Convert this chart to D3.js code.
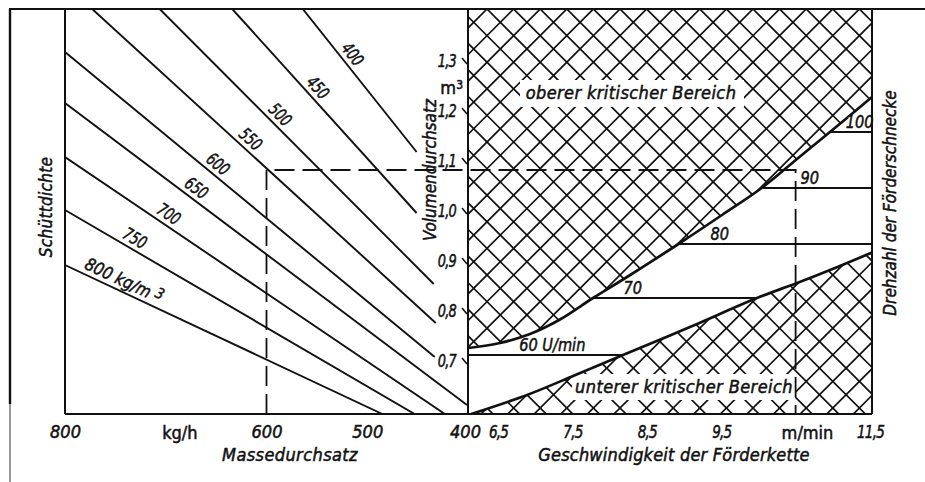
<!DOCTYPE html>
<html><head><meta charset="utf-8">
<script src="https://cdn.jsdelivr.net/npm/d3@7"></script>
<style>
html,body{margin:0;padding:0;background:#fff;}
svg{display:block;background:#fff;}
text{font-family:"DejaVu Sans Condensed","DejaVu Sans",sans-serif;font-stretch:condensed;font-style:oblique;fill:#111;stroke:#111;stroke-width:0.5px;}
</style></head><body>
<svg id="c" width="925" height="482"></svg>
<script>
// ---------- data ----------
const densities        = [400, 450, 500, 550, 600, 650, 700, 750, 800];
const densityStartMass = [564, 634, 706, 773, 800, 800, 800, 800, 800];
const densityStartVol  = [1.408, 1.408, 1.408, 1.408, 1.322, 1.220, 1.112, 1.006, 0.896];
const densityEndMass   = [451, 451, 434, 432, 433, 401, 423, 453, 485];
const densityEndVol    = [1.122, 1.000, 0.858, 0.780, 0.712, 0.616, 0.598, 0.598, 0.598];
const densityLabelMass = [523, 557, 594, 623, 655, 676, 703, 736, 746];

const massTicks  = [800, 600, 500, 400];
const volTicks   = [0.7, 0.8, 0.9, 1.0, 1.1, 1.2, 1.3];
const speedTicks = [6.5, 7.5, 8.5, 9.5, 11.5];

const upperCurveSpeed = [6.097, 6.527, 6.930, 7.333, 7.777, 8.234, 8.946, 9.511, 10.062, 10.519, 10.962, 11.527];
const upperCurveVol   = [0.730, 0.740, 0.758, 0.787, 0.830, 0.872, 0.940, 0.996, 1.052, 1.108, 1.162, 1.232];
const lowerCurveSpeed = [6.14, 6.89, 7.54, 8.18, 9.08, 9.98, 10.52, 11.03, 11.527];
const lowerCurveVol   = [0.598, 0.636, 0.676, 0.716, 0.772, 0.830, 0.860, 0.890, 0.921];

const rpmValues      = [60, 70, 80, 90, 100];
const rpmLabels      = ["60 U/min", "70", "80", "90", "100"];
const rpmVol         = [0.716, 0.830, 0.938, 1.050, 1.162];
const rpmStartSpeed  = [6.097, 7.777, 8.946, 10.062, 10.962];
const rpmEndSpeed    = [8.18, 9.98, 11.527, 11.527, 11.527];
const rpmLabelSpeed  = [7.23, 8.31, 9.48, 10.69, 11.36];

const exampleMass = 600, exampleVol = 1.086, exampleSpeed = 10.5;

// ---------- layout ----------
const svg = d3.select("#c");
const T = 9, B = 414, L = 65, M = 468, R = 872;
const ink = "#111";

const xMass  = d3.scaleLinear().domain([800, 400]).range([L, M]);
const yVol   = d3.scaleLinear().domain([0.598, 1.408]).range([B, T]);
const xSpeed = d3.scaleLinear().domain([6.5, 11.5]).range([498, 870]);

const defs = svg.append("defs");

// ---------- hatched critical regions ----------
const curveLine = d3.line().x(d => xSpeed(d[0])).y(d => yVol(d[1])).curve(d3.curveCatmullRom.alpha(0.5));
const upperPts = upperCurveSpeed.map((s, i) => [s, upperCurveVol[i]]);
const lowerPts = lowerCurveSpeed.map((s, i) => [s, lowerCurveVol[i]]);

defs.append("clipPath").attr("id", "clipUp").append("path")
  .attr("d", curveLine(upperPts) + "L" + R + "," + T + "L" + M + "," + T + "Z");
defs.append("clipPath").attr("id", "clipLow").append("path")
  .attr("d", curveLine(lowerPts) + "L" + R + "," + B + "Z");

function hatch(clipId) {
  const g = svg.append("g").attr("clip-path", `url(#${clipId})`)
    .attr("stroke", ink).attr("stroke-width", 1.7).attr("fill", "none");
  const step = 26.6, x0 = 487, Lg = 700;
  for (let k = -30; k <= 30; k++) {
    const x = x0 + k * step;
    g.append("line").attr("x1", x - Lg).attr("y1", T - Lg).attr("x2", x + Lg).attr("y2", T + Lg);
    g.append("line").attr("x1", x + Lg).attr("y1", T - Lg).attr("x2", x - Lg).attr("y2", T + Lg);
  }
}
hatch("clipUp");
hatch("clipLow");

// white boxes behind region labels
svg.append("rect").attr("x", 520).attr("y", 80).attr("width", 224).attr("height", 27).attr("fill", "#fff");
svg.append("rect").attr("x", 572).attr("y", 374).attr("width", 223).attr("height", 26).attr("fill", "#fff");
svg.append("text").attr("x", 631).attr("y", 99).attr("text-anchor", "middle")
  .attr("font-size", 18).attr("letter-spacing", 0.4).text("oberer kritischer Bereich");
svg.append("text").attr("x", 684).attr("y", 393).attr("text-anchor", "middle")
  .attr("font-size", 18).attr("letter-spacing", 0.4).text("unterer kritischer Bereich");

// boundary curves
svg.append("path").attr("d", curveLine(upperPts)).attr("fill", "none").attr("stroke", ink).attr("stroke-width", 2.7);
svg.append("path").attr("d", curveLine(lowerPts)).attr("fill", "none").attr("stroke", ink).attr("stroke-width", 2.7);

// rpm lines
rpmValues.forEach((r, i) => {
  svg.append("line")
    .attr("x1", xSpeed(rpmStartSpeed[i])).attr("x2", xSpeed(rpmEndSpeed[i]))
    .attr("y1", yVol(rpmVol[i])).attr("y2", yVol(rpmVol[i]))
    .attr("stroke", ink).attr("stroke-width", 2);
  if (i === 4) {
    svg.append("rect").attr("x", xSpeed(rpmLabelSpeed[i]) - 11).attr("y", yVol(rpmVol[i]) - 16)
      .attr("width", 22).attr("height", 14).attr("fill", "#fff");
  }
  svg.append("text")
    .attr("transform", `translate(${xSpeed(rpmLabelSpeed[i])},${yVol(rpmVol[i]) - 4}) scale(0.9,1)`)
    .attr("text-anchor", "middle").attr("font-size", 18).text(rpmLabels[i]);
});

// ---------- density lines (left nomogram) ----------
defs.append("clipPath").attr("id", "clipLeft").append("rect")
  .attr("x", L).attr("y", T).attr("width", M - L).attr("height", B - T);
const dg = svg.append("g").attr("clip-path", "url(#clipLeft)");
densities.forEach((d, i) => {
  const x1 = xMass(densityStartMass[i]), y1 = yVol(densityStartVol[i]);
  const x2 = xMass(densityEndMass[i]),   y2 = yVol(densityEndVol[i]);
  dg.append("line").attr("x1", x1).attr("y1", y1).attr("x2", x2).attr("y2", y2)
    .attr("stroke", ink).attr("stroke-width", 1.9);
  const t = (densityLabelMass[i] - densityStartMass[i]) / (densityEndMass[i] - densityStartMass[i]);
  const px = x1 + t * (x2 - x1), py = y1 + t * (y2 - y1);
  const ang = Math.atan2(y2 - y1, x2 - x1) * 180 / Math.PI;
  const sx = d === 800 ? 0.95 : 0.8;
  const tx = svg.append("text")
    .attr("transform", `translate(${px},${py}) rotate(${ang}) scale(${sx},1)`)
    .attr("y", -11).attr("dy", "0.35em").attr("text-anchor", "middle").attr("font-size", 17.5);
  if (d === 800) {
    tx.append("tspan").text("800 kg/m");
    tx.append("tspan").attr("dx", 5).attr("dy", "-0.3em").attr("font-size", 15).text("3");
  } else {
    tx.text(String(d));
  }
});

// ---------- dashed example path ----------
svg.append("path")
  .attr("d", `M${xMass(exampleMass)},${B}V${yVol(exampleVol)}H${xSpeed(exampleSpeed)}V${B}`)
  .attr("fill", "none").attr("stroke", ink).attr("stroke-width", 1.8).attr("stroke-dasharray", "20,8");

// ---------- frames ----------
const frame = svg.append("g").attr("stroke", ink).attr("fill", "none");
frame.append("line").attr("x1", 9).attr("x2", 925).attr("y1", T).attr("y2", T).attr("stroke-width", 2.2);
frame.append("line").attr("x1", 10).attr("x2", 10).attr("y1", T).attr("y2", 404).attr("stroke-width", 2.4);
frame.append("line").attr("x1", 10).attr("x2", 10).attr("y1", 404).attr("y2", 482).attr("stroke-width", 1.2).attr("stroke", "#555");
frame.append("line").attr("x1", L).attr("x2", L).attr("y1", T).attr("y2", B).attr("stroke-width", 2);
frame.append("line").attr("x1", M).attr("x2", M).attr("y1", T).attr("y2", B).attr("stroke-width", 2);
frame.append("line").attr("x1", R).attr("x2", R).attr("y1", T).attr("y2", B).attr("stroke-width", 2);
frame.append("line").attr("x1", L).attr("x2", R).attr("y1", B).attr("y2", B).attr("stroke-width", 2.2);

// ---------- axes ----------
const fmt = v => d3.format(".1f")(v).replace(".", ",");
const axM = svg.append("g").attr("transform", `translate(0,${B})`)
  .call(d3.axisBottom(xMass).tickValues(massTicks).tickSize(0).tickPadding(11).tickFormat(d3.format("d")));
const axS = svg.append("g").attr("transform", `translate(0,${B})`)
  .call(d3.axisBottom(xSpeed).tickValues(speedTicks).tickSize(0).tickPadding(11).tickFormat(fmt));
const axV = svg.append("g").attr("transform", `translate(${M},0)`)
  .call(d3.axisLeft(yVol).tickValues(volTicks).tickSize(0).tickPadding(12).tickFormat(fmt));
[axM, axS, axV].forEach(a => {
  a.select(".domain").remove();
  a.selectAll("text").attr("font-size", 18).attr("font-family", null).attr("fill", ink);
});
axM.selectAll(".tick").filter(d => d === 400).select("text").attr("dx", -3);
// narrow the comma labels like the technical lettering of the original
axS.selectAll(".tick text").attr("transform", "scale(0.84,1)").attr("letter-spacing", -1);
axV.selectAll(".tick text").attr("font-size", 18).attr("dy", "0.2em")
  .attr("transform", "scale(0.8,1)").attr("x", -12 / 0.8).attr("letter-spacing", -1);
// slanted tick marks on the volume axis
volTicks.forEach(v => {
  svg.append("line").attr("x1", M - 6).attr("y1", yVol(v) - 5).attr("x2", M - 1).attr("y2", yVol(v) + 1)
    .attr("stroke", ink).attr("stroke-width", 1.6);
});

// units
svg.append("text").attr("x", xMass(686)).attr("y", B + 25).attr("text-anchor", "middle")
  .attr("font-size", 18).style("font-style", "normal").text("kg/h");
svg.append("text").attr("x", xSpeed(10.66)).attr("y", B + 25).attr("text-anchor", "middle")
  .attr("font-size", 18).style("font-style", "normal").text("m/min");
const mu = svg.append("text").attr("x", 463).attr("y", 94).attr("text-anchor", "end")
  .attr("font-size", 18).style("font-style", "normal");
mu.append("tspan").text("m");
mu.append("tspan").attr("dy", "-0.45em").attr("font-size", 12).text("3");

// axis titles
svg.append("text").attr("x", 290).attr("y", 461).attr("text-anchor", "middle").attr("font-size", 18).attr("letter-spacing", 0.4).text("Massedurchsatz");
svg.append("text").attr("x", 674).attr("y", 461).attr("text-anchor", "middle").attr("font-size", 18).attr("letter-spacing", 0.2).text("Geschwindigkeit der Förderkette");
svg.append("text").attr("transform", "translate(52,207) rotate(-90)").attr("text-anchor", "middle").attr("font-size", 17).attr("letter-spacing", 0.3).text("Schüttdichte");
svg.append("text").attr("transform", "translate(436,170) rotate(-90)").attr("text-anchor", "middle").attr("font-size", 17).text("Volumendurchsatz");
svg.append("text").attr("transform", "translate(896,203) rotate(-90)").attr("text-anchor", "middle").attr("font-size", 17).text("Drehzahl der Förderschnecke");
</script>
</body></html>
